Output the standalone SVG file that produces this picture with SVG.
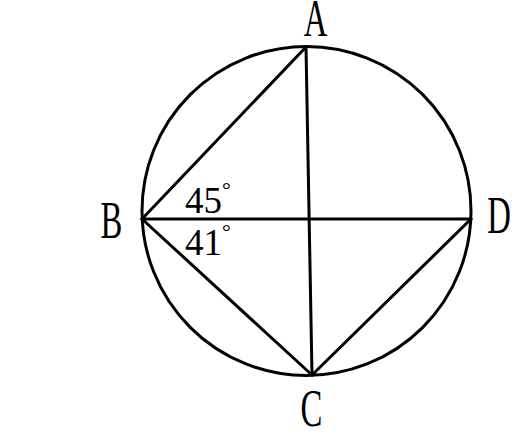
<svg xmlns="http://www.w3.org/2000/svg" width="530" height="440" viewBox="0 0 530 440">
<style>
.ln{stroke:#000;stroke-width:3;fill:none;stroke-linecap:round}
.lbl{font-family:'Liberation Serif','Times New Roman','DejaVu Serif',serif;font-size:52px;fill:#000;text-anchor:middle}
.ang{font-family:'Liberation Serif','Times New Roman','DejaVu Serif',serif;font-size:37px;fill:#000}
</style>
<rect width="530" height="440" fill="#fff"/>
<g id="circle"><circle class="ln" cx="306.5" cy="211" r="164.5"/></g>
<g id="connectors">
<line class="ln" x1="306" y1="47" x2="142" y2="219"/>
<line class="ln" x1="306" y1="47" x2="312" y2="375"/>
<line class="ln" x1="142" y1="219" x2="471" y2="219"/>
<line class="ln" x1="142" y1="219" x2="312" y2="375"/>
<line class="ln" x1="312" y1="375" x2="471" y2="219"/>
</g>
<g id="node-A"><text class="lbl" transform="translate(315.5,36) scale(0.63,1)">A</text></g>
<g id="node-B"><text class="lbl" transform="translate(111.5,238) scale(0.63,1)">B</text></g>
<g id="node-C"><text class="lbl" transform="translate(311.5,426) scale(0.63,1)">C</text></g>
<g id="node-D"><text class="lbl" transform="translate(499,233) scale(0.63,1)">D</text></g>
<g id="angle-45"><text class="ang" x="185" y="213">45<tspan font-size="22" dy="-16">°</tspan></text></g>
<g id="angle-41"><text class="ang" x="185" y="255">41<tspan font-size="22" dy="-16">°</tspan></text></g>
</svg>
